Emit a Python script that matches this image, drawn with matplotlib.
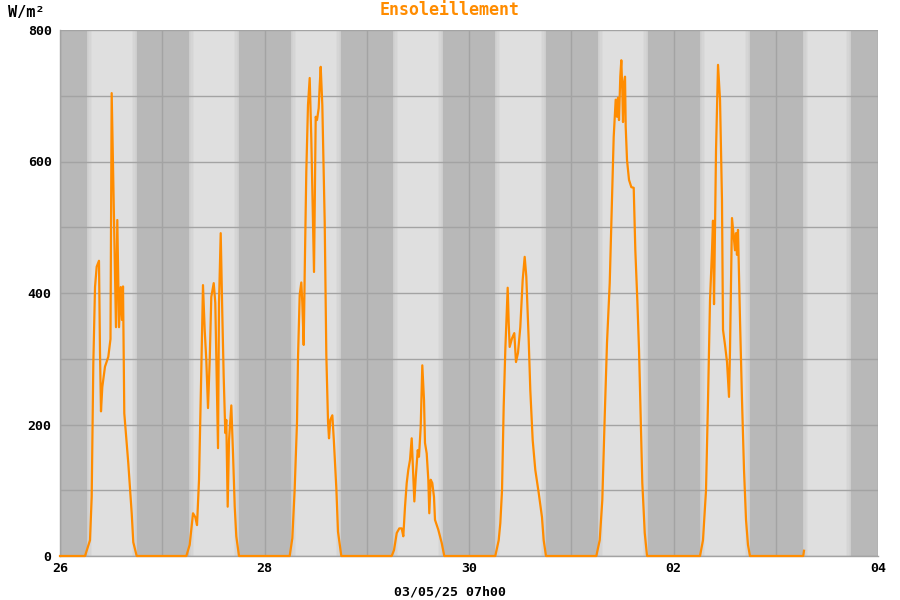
import numpy as np
import matplotlib
matplotlib.use('Agg')
from matplotlib import pyplot as plt

# x axis: days since 26/04 00h00
tick_days = [0, 2, 4, 6, 8]
tick_labels = ['26', '28', '30', '02', '04']

# sunrise / sunset (fraction of day) for each day shown
sunrise = [0.264, 1.262, 2.259, 3.257, 4.254, 5.262, 6.259, 7.267]
sunset = [0.753, 1.751, 2.748, 3.746, 4.753, 5.751, 6.748, 7.736]

# irradiance per day: hour of day, W/m2
h26 = [5.87, 7.04, 7.44, 7.82, 8.22, 8.61, 9.15, 9.39, 9.62, 9.93, 10.56, 11.34, 11.85, 12.13,
       12.51, 13.14, 13.45, 13.85, 14.25, 14.55, 14.79, 15.09, 16.03, 16.83, 17.20, 18.0]
v26 = [0, 24, 90, 293, 409, 440, 449, 309, 220, 257, 288, 303, 330, 704,
       572, 348, 511, 348, 409, 359, 410, 217, 141, 65, 21, 0]

h27 = [5.65, 6.44, 7.22, 7.76, 8.16, 8.63, 9.17, 9.56, 9.96, 10.34, 10.74, 11.14, 11.51, 12.08,
       12.45, 13.09, 13.32, 13.72, 14.09, 14.42, 14.80, 15.03, 15.36, 15.67, 16.21, 16.61,
       17.01, 17.38, 18.01]
v27 = [0, 17, 65, 59, 47, 116, 283, 412, 344, 298, 225, 298, 394, 415,
       385, 164, 385, 491, 370, 273, 187, 207, 75, 176, 229, 156,
       75, 30, 0]

h28 = [5.91, 6.53, 7.09, 7.63, 7.86, 8.26, 8.64, 8.87, 9.20, 9.44, 9.81, 10.21, 10.61, 10.98,
       11.38, 11.62, 11.85, 12.02, 12.32, 12.72, 12.96, 13.19, 13.57, 14.13, 14.51, 14.91,
       15.14, 15.45, 15.92, 16.25, 16.86, 17.25, 18.03]
v28 = [0, 27, 103, 204, 301, 397, 416, 386, 321, 432, 584, 686, 727, 636,
       508, 432, 560, 668, 663, 681, 716, 744, 686, 508, 306, 204,
       179, 207, 214, 179, 103, 37, 0]

h29 = [5.86, 6.40, 7.04, 7.64, 8.20, 8.58, 8.98, 9.38, 9.75, 10.15, 10.55, 10.94, 11.17, 11.50,
       11.97, 12.26, 12.66, 13.04, 13.44, 13.67, 14.07, 14.45, 14.68, 15.01, 15.38, 15.78,
       16.02, 16.79, 17.59, 18.20]
v29 = [0, 9, 35, 42, 42, 30, 75, 111, 131, 146, 179, 116, 83, 120,
       161, 151, 196, 290, 237, 172, 156, 116, 65, 116, 111, 90,
       55, 40, 20, 0]

h30 = [6.17, 6.97, 7.35, 7.75, 8.14, 8.52, 9.08, 9.32, 9.55, 10.09, 10.63, 11.03, 11.50, 12.04,
       12.60, 13.07, 13.45, 14.01, 14.39, 14.95, 15.56, 16.36, 17.13, 17.53, 18.07]
v30 = [0, 24, 50, 100, 227, 313, 408, 354, 318, 331, 339, 295, 309, 348,
       420, 455, 425, 329, 252, 176, 131, 96, 59, 24, 0]

h01 = [5.88, 6.68, 7.29, 7.85, 8.39, 9.03, 9.57, 9.96, 10.43, 10.74, 10.97, 11.21, 11.51, 11.75,
       11.98, 12.15, 12.38, 12.62, 12.78, 13.09, 13.56, 14.10, 14.66, 15.04, 15.51, 15.91,
       16.31, 16.68, 17.25, 17.79]
v01 = [0, 24, 85, 211, 324, 415, 541, 637, 694, 668, 697, 663, 729, 754,
       709, 660, 719, 729, 653, 602, 572, 561, 560, 465, 389, 313,
       211, 111, 35, 0]

h02 = [6.22, 6.92, 7.63, 8.10, 8.57, 9.04, 9.27, 9.51, 9.98, 10.45, 10.92, 11.38, 11.62, 12.09,
       12.56, 13.03, 13.26, 13.73, 14.20, 14.43, 14.67, 14.90, 15.14, 15.61, 16.08, 16.55,
       17.02, 17.48, 17.95]
v02 = [0, 24, 100, 237, 389, 465, 510, 383, 617, 747, 694, 541, 344, 321,
       295, 242, 313, 514, 481, 465, 491, 458, 496, 359, 237, 131,
       55, 17, 0]

h03 = [6.45, 6.63]
v03 = [0, 8]

days_h = [h26, h27, h28, h29, h30, h01, h02, h03]
days_v = [v26, v27, v28, v29, v30, v01, v02, v03]

t = [0.0]
v = [0.0]
for k in range(len(days_h)):
    t += [k + hh / 24.0 for hh in days_h[k]]
    v += days_v[k]
t = np.array(t)
v = np.array(v)

dark = '#b8b8b8'
light = '#dfdfdf'
grid = '#a3a3a3'
orange = '#ff8c00'

fig = plt.figure(figsize=(9, 6), dpi=100)
ax = fig.add_axes([60/900, 1-556/600, (878-60)/900, (556-30)/600])
ax.set_facecolor(light)

# night bands
starts = [0] + sunset
ends = sunrise + [8]
for a, b in zip(starts, ends):
    ax.axvspan(a, b, color=dark, lw=0, zorder=0.1)
    for i in range(4):
        w = (i + 1) * 0.012
        if a > 0:
            ax.axvspan(a - w, a, color=dark, alpha=0.12, lw=0, zorder=0.1)
        if b < 8:
            ax.axvspan(b, b + w, color=dark, alpha=0.12, lw=0, zorder=0.1)

ax.plot(t, v, color=orange, lw=1.6, zorder=3, clip_on=False)

ax.set_xlim(0, 8)
ax.set_ylim(0, 800)
ax.set_xticks(tick_days)
ax.set_xticklabels(tick_labels)
ax.set_xticks([1, 3, 5, 7], minor=True)
ax.set_yticks([0, 200, 400, 600, 800])
ax.set_yticks([100, 300, 500, 700], minor=True)
ax.grid(True, which='both', color=grid, lw=1, zorder=0.5)
ax.set_axisbelow(True)
ax.tick_params(which='both', length=0)
ax.tick_params(axis='x', pad=4)
ax.tick_params(axis='y', pad=6)
for lab in ax.get_xticklabels() + ax.get_yticklabels():
    lab.set_family('DejaVu Sans Mono')
    lab.set_fontweight('bold')
    lab.set_fontsize(9.5)

for s in ['top', 'right']:
    ax.spines[s].set_visible(False)
for s in ['left', 'bottom']:
    ax.spines[s].set_color(grid)
    ax.spines[s].set_linewidth(1)
    ax.spines[s].set_zorder(2)

fig.text(0.5, 1-10/600, 'Ensoleillement', color=orange, ha='center', va='center',
         family='DejaVu Sans Mono', fontweight='bold', fontsize=12)
fig.text(8/900, 1-12/600, 'W/m²', ha='left', va='center',
         family='DejaVu Sans Mono', fontweight='bold', fontsize=11)
fig.text(0.5, 1-592/600, '03/05/25 07h00', ha='center', va='center',
         family='DejaVu Sans Mono', fontweight='bold', fontsize=9.5)

fig.savefig('out.png', dpi=100)
